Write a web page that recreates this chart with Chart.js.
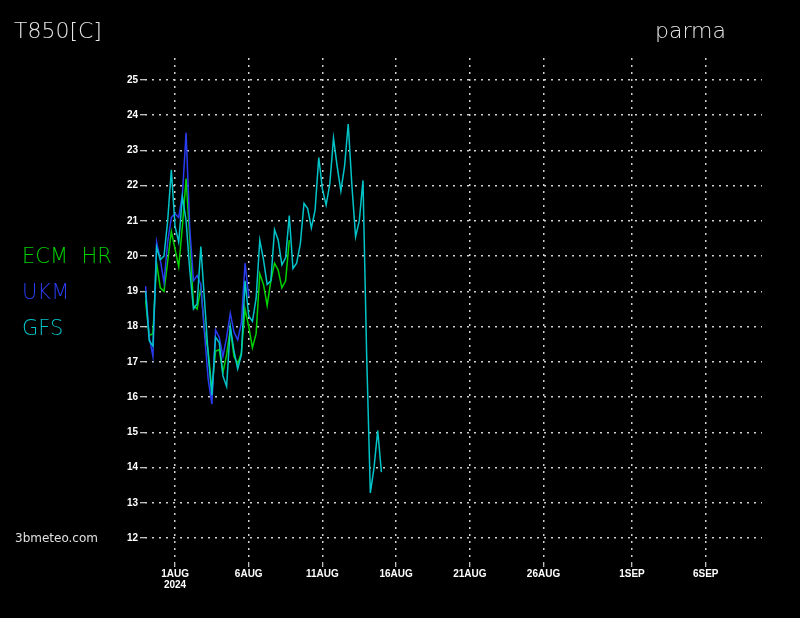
<!DOCTYPE html>
<html>
<head>
<meta charset="utf-8">
<script src="https://cdn.jsdelivr.net/npm/chart.js@4.4.1/dist/chart.umd.min.js"></script>
<style>
  html, body { margin: 0; padding: 0; background: #000; }
  #wrap { width: 800px; height: 618px; }
</style>
</head>
<body>
<div id="wrap"><canvas id="c" width="800" height="618"></canvas></div>
<script>
// Time of each value: hours relative to 1 AUG 2024 00Z (6-hourly)
const hours = [-48,-42,-36,-30,-24,-18,-12,-6,0,6,12,18,24,30,36,42,48,54,60,66,72,78,84,90,96,102,108,114,120,126,132,138,144,150,156,162,168,174,180,186,192,198,204,210,216,222,228,234,240,246,252,258,264,270,276,282,288,294,300,306,312,318,324,330,336];

// GFS (cyan)
const gfs = [19.0,17.6,17.45,20.25,19.9,20.0,21.0,22.45,20.85,20.4,
             21.7,21.0,19.6,18.5,18.65,20.27,18.75,17.2,16.05,17.7,
             17.55,16.6,16.3,18.0,17.3,16.8,17.2,19.3,18.3,18.15,
             18.8,20.45,19.9,19.2,19.3,20.75,20.45,19.75,19.95,21.15,
             19.65,19.8,20.35,21.5,21.35,20.8,21.3,22.8,21.9,21.45,
             22.05,23.35,22.55,21.85,22.55,23.75,22.0,20.55,21.0,22.15,
             17.2,13.28,14.0,15.05,13.87];

// UKM (blue)
const ukm = [19.15,17.7,17.15,20.4,19.9,19.25,20.4,21.1,21.2,21.1,
             21.75,23.5,20.8,19.3,19.45,19.2,17.8,16.5,15.8,17.9,
             17.7,17.15,17.7,18.38,17.85,17.62,18.1,19.8,18.85];

// ECM HR (green)
const ecm = [18.75,17.75,17.8,19.8,19.1,19.0,19.85,20.7,20.2,19.7,
             20.85,22.2,20.5,18.6,18.5,19.1,17.9,17.3,16.2,17.3,
             17.35,16.7,17.2,17.95,17.15,16.95,17.25,18.5,18.0,17.4,
             17.8,19.5,19.2,18.6,19.3,19.8,19.6,19.1,19.3,20.45];

// X tick positions (hours from 1 AUG) and labels
const xTickHours = [0,120,240,360,480,600,744,864];
const xTickLabels = [['1AUG','2024'],'6AUG','11AUG','16AUG','21AUG','26AUG','1SEP','6SEP'];
// Y ticks
const yTicks = [12,13,14,15,16,17,18,19,20,21,22,23,24,25];

const seriesNames = ['ECM  HR','UKM','GFS'];
const seriesColors = ['#00d200','#2a3cf0','#00c4c8'];

function pts(vals) { return vals.map((v, i) => ({ x: hours[i], y: v })); }

const textPlugin = {
  id: 'texts',
  beforeDraw(chart) {
    const ctx = chart.ctx;
    ctx.save();
    ctx.fillStyle = '#000';
    ctx.fillRect(0, 0, chart.width, chart.height);
    ctx.restore();
  },
  afterDraw(chart) {
    const ctx = chart.ctx;
    ctx.save();
    ctx.textBaseline = 'alphabetic';
    ctx.textAlign = 'left';
    ctx.font = '200 22px "DejaVu Sans"';
    ctx.fillStyle = '#e6e6e6';
    ctx.fillText('T850[C]', 14, 38);
    ctx.fillText('parma', 655, 38);
    ctx.font = '200 21px "DejaVu Sans"';
    const ys = [263, 299, 335];
    for (let i = 0; i < 3; i++) {
      ctx.fillStyle = seriesColors[i];
      ctx.fillText(seriesNames[i], 22, ys[i]);
    }
    ctx.font = '12px "DejaVu Sans"';
    ctx.fillStyle = '#e0e0e0';
    ctx.fillText('3bmeteo.com', 15, 542);
    ctx.restore();
  }
};

new Chart(document.getElementById('c'), {
  type: 'line',
  data: {
    datasets: [
      { label: 'GFS', data: pts(gfs), borderColor: seriesColors[2], borderWidth: 1.5, pointRadius: 0, tension: 0, order: 0 },
      { label: 'UKM', data: pts(ukm), borderColor: seriesColors[1], borderWidth: 1.5, pointRadius: 0, tension: 0, order: 1 },
      { label: 'ECM HR', data: pts(ecm), borderColor: seriesColors[0], borderWidth: 1.5, pointRadius: 0, tension: 0, order: 2 }
    ]
  },
  options: {
    responsive: false,
    animation: false,
    events: [],
    layout: { padding: { top: 58, right: 38, left: 0, bottom: 0 } },
    plugins: { legend: { display: false }, title: { display: false }, tooltip: { enabled: false } },
    scales: {
      x: {
        type: 'linear',
        min: -48.9,
        max: 955.7,
        afterFit(scale) { scale.height = 56; },
        afterBuildTicks(scale) { scale.ticks = xTickHours.map(v => ({ value: v })); },
        ticks: {
          autoSkip: false, maxRotation: 0, minRotation: 0,
          color: '#ffffff',
          font: { family: 'Liberation Sans', size: 10, weight: 'bold', lineHeight: 1.1 },
          padding: 2,
          callback(value) { const i = xTickHours.indexOf(value); return i >= 0 ? xTickLabels[i] : ''; }
        },
        grid: { color: '#d0d0d0', lineWidth: 1.5, tickColor: '#ffffff', tickLength: 5, tickBorderDash: [], tickWidth: 1 },
        border: { display: false, dash: [2, 5] }
      },
      y: {
        type: 'linear',
        min: 11.319,
        max: 25.624,
        afterFit(scale) { scale.width = 145; },
        afterBuildTicks(scale) { scale.ticks = yTicks.map(v => ({ value: v })); },
        ticks: {
          color: '#ffffff',
          font: { family: 'Liberation Sans', size: 10, weight: 'bold' },
          padding: 2,
          callback(value) { return String(value); }
        },
        grid: { color: '#d0d0d0', lineWidth: 1.5, tickColor: '#ffffff', tickLength: 5, tickBorderDash: [], tickWidth: 1 },
        border: { display: false, dash: [2, 5] }
      }
    }
  },
  plugins: [textPlugin]
});
</script>
</body>
</html>
